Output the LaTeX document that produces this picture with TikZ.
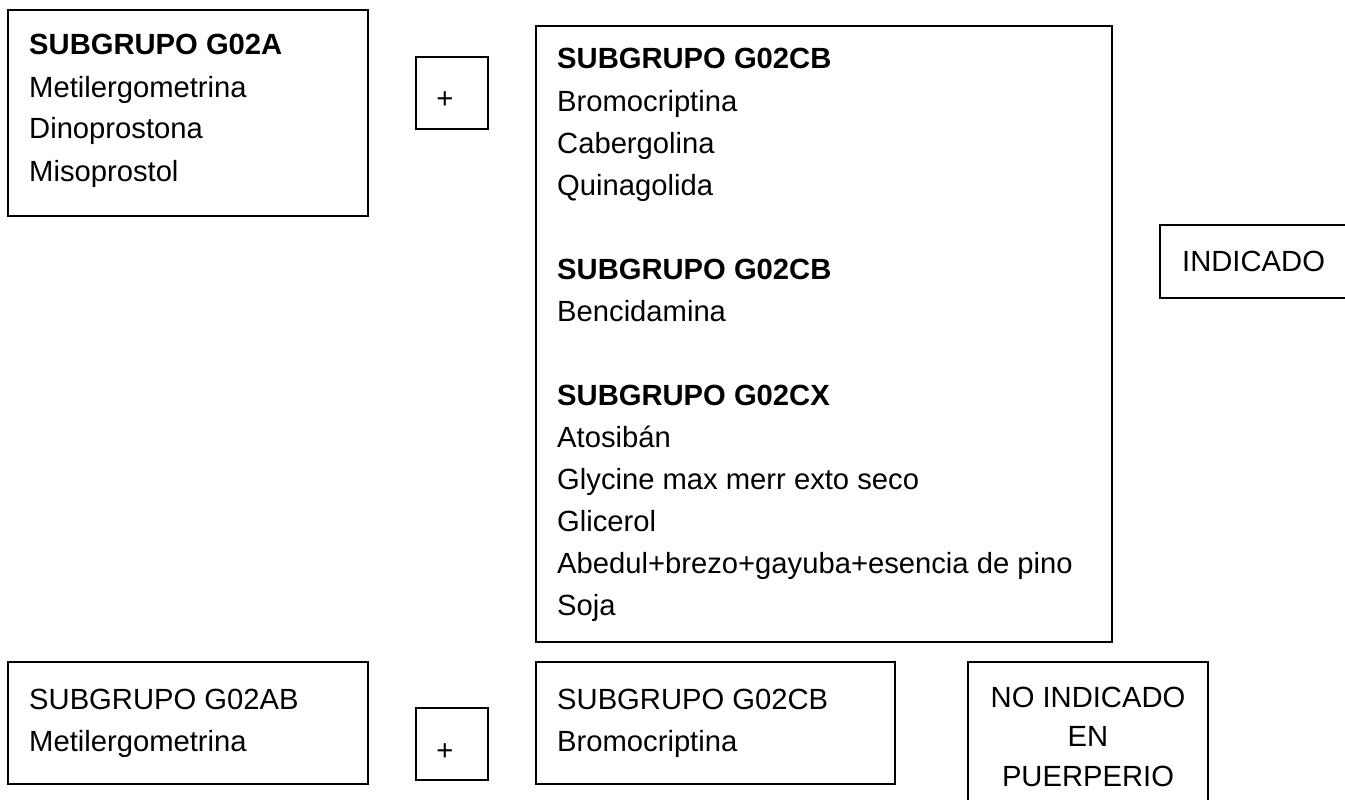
\documentclass[tikz,border=0pt]{standalone}
\usepackage{fontspec}
\setmainfont{Liberation Sans}
\begin{document}
\begin{tikzpicture}[x=1pt,y=-1pt,
  box/.style={draw=black, line width=1.6pt, fill=none, inner sep=0pt, outer sep=0pt, anchor=north west},
  txt/.style={anchor=base west, inner sep=0pt, font=\fontsize{29.2}{42}\selectfont},
  hd/.style={txt, font=\fontsize{29.2}{42}\selectfont\bfseries},
  ctr/.style={anchor=base, inner sep=0pt, font=\fontsize{29.2}{42}\selectfont}]
\useasboundingbox (0,0) rectangle (1345,800);
\clip (0,0) rectangle (1345,800);
% boxes
\node[box, minimum width=360pt, minimum height=206pt] (boxA) at (8,10) {};
\node[box, minimum width=72pt, minimum height=72pt] (plusA) at (416,57) {};
\node[box, minimum width=576pt, minimum height=616pt] (boxB) at (536,26) {};
\node[box, minimum width=200pt, minimum height=73pt] (ind) at (1160,225) {};
\node[box, minimum width=360pt, minimum height=122pt] (boxC) at (8,662) {};
\node[box, minimum width=72pt, minimum height=72pt] (plusC) at (416,708) {};
\node[box, minimum width=359pt, minimum height=122pt] (boxD) at (536,662) {};
\node[box, minimum width=240pt, minimum height=160pt] (noind) at (968,662) {};
% box A text
\node[hd]  (a0) at (29,55)  {SUBGRUPO G02A};
\node[txt] (a1) at (29,97)  {Metilergometrina};
\node[txt] (a2) at (29,139) {Dinoprostona};
\node[txt] (a3) at (29,181) {Misoprostol};
% plus signs
\node[ctr] (p1) at (445,109) {+};
\node[ctr] (p2) at (445,760) {+};
% big box text
\node[hd]  (b0)  at (557,69)  {SUBGRUPO G02CB};
\node[txt] (b1)  at (557,111) {Bromocriptina};
\node[txt] (b2)  at (557,153) {Cabergolina};
\node[txt] (b3)  at (557,195) {Quinagolida};
\node[hd]  (b5)  at (557,279) {SUBGRUPO G02CB};
\node[txt] (b6)  at (557,321) {Bencidamina};
\node[hd]  (b8)  at (557,405) {SUBGRUPO G02CX};
\node[txt] (b9)  at (557,447) {Atosibán};
\node[txt] (b10) at (557,489) {Glycine max merr exto seco};
\node[txt] (b11) at (557,531) {Glicerol};
\node[txt] (b12) at (557,573) {Abedul+brezo+gayuba+esencia de pino};
\node[txt] (b13) at (557,615) {Soja};
% INDICADO
\node[txt] (i0) at (1182,271) {INDICADO};
% bottom row
\node[txt] (c0) at (29,709) {SUBGRUPO G02AB};
\node[txt] (c1) at (29,751) {Metilergometrina};
\node[txt] (d0) at (557,709) {SUBGRUPO G02CB};
\node[txt] (d1) at (557,751) {Bromocriptina};
\node[ctr] (n0) at (1088,707) {NO INDICADO};
\node[ctr] (n1) at (1088,746) {EN};
\node[ctr] (n2) at (1088,786) {PUERPERIO};
\end{tikzpicture}
\end{document}
